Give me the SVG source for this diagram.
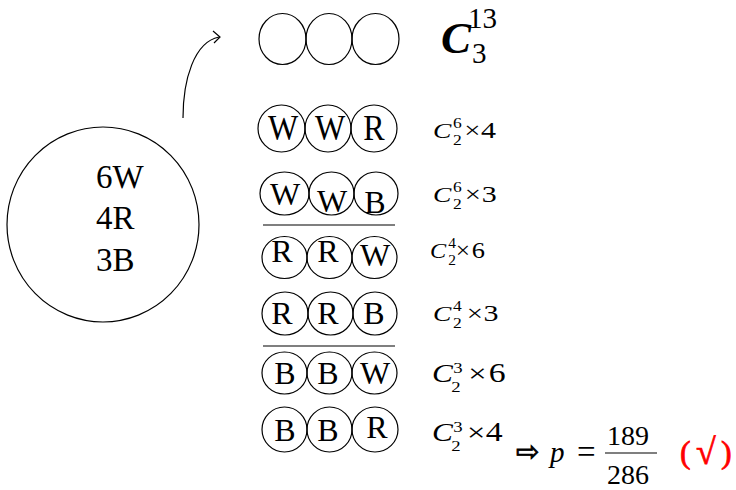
<svg xmlns="http://www.w3.org/2000/svg" width="736" height="490" viewBox="0 0 736 490">
<style>
.c{fill:none;stroke:#000;stroke-width:1.2}
.t{font-family:"Liberation Serif","Times New Roman",serif;fill:#000}
.L{font-size:32px;text-anchor:middle}
.i{font-style:italic}
.sep{stroke:#000;stroke-width:1.2}
.red{fill:#ff0000;stroke:#ff0000;stroke-width:0.7}
</style>
<rect width="736" height="490" fill="#fff"/>

<g id="bag">
<ellipse class="c" cx="103" cy="224.5" rx="96" ry="97.5"/>
<text class="t" x="96" y="188" font-size="33">6W</text>
<text class="t" x="96" y="229" font-size="33">4R</text>
<text class="t" x="96" y="271" font-size="33">3B</text>
</g>

<g id="connectors">
<path class="c" d="M183,118 C183,80 194,42 219,37"/>
<path class="c" d="M213,31 L220,37 L214,43"/>
</g>

<g id="empty-row">
<ellipse class="c" cx="282.5" cy="39" rx="23.5" ry="25.5"/>
<ellipse class="c" cx="329" cy="39" rx="23" ry="25.5"/>
<ellipse class="c" cx="375.5" cy="39" rx="23.5" ry="25.5"/>
</g>

<g id="total">
<text class="t" x="441" y="53" font-size="45" font-weight="bold" font-style="italic">C</text>
<text class="t" x="468" y="28" font-size="29">13</text>
<text class="t" x="472" y="63" font-size="29">3</text>
</g>

<g id="row-WWR">
<ellipse class="c" cx="281.5" cy="128.5" rx="23.5" ry="23.5"/>
<ellipse class="c" cx="328" cy="128.5" rx="23" ry="23.5"/>
<ellipse class="c" cx="374" cy="128.5" rx="23" ry="23.5"/>
<g transform="translate(0,140) scale(1,1.15)">
<text class="t L" x="283" y="0">W</text>
<text class="t L" x="330" y="0">W</text>
<text class="t L" x="374" y="0">R</text>
</g>
</g>

<g id="row-WWB">
<ellipse class="c" cx="284.5" cy="193.5" rx="24.5" ry="21.5"/>
<ellipse class="c" cx="331.5" cy="193.5" rx="22.5" ry="21.5"/>
<ellipse class="c" cx="376" cy="193.5" rx="22" ry="21.5"/>
<text class="t L" x="285" y="205">W</text>
<text class="t L" x="332" y="212">W</text>
<text class="t L" x="375" y="213">B</text>
<line class="sep" x1="263" y1="225" x2="395" y2="225"/>
</g>

<g id="row-RRW">
<ellipse class="c" cx="284.5" cy="257.5" rx="22.5" ry="21"/>
<ellipse class="c" cx="329.5" cy="257.5" rx="22.5" ry="21"/>
<ellipse class="c" cx="374.5" cy="257.5" rx="22.5" ry="21"/>
<text class="t L" x="282" y="262">R</text>
<text class="t L" x="328" y="262">R</text>
<text class="t L" x="375" y="266">W</text>
</g>

<g id="row-RRB">
<ellipse class="c" cx="285" cy="313.5" rx="23" ry="21.5"/>
<ellipse class="c" cx="330.5" cy="313.5" rx="22.5" ry="21.5"/>
<ellipse class="c" cx="375" cy="313.5" rx="22" ry="21.5"/>
<text class="t L" x="282" y="324">R</text>
<text class="t L" x="328" y="324">R</text>
<text class="t L" x="374" y="324">B</text>
<line class="sep" x1="263" y1="346" x2="395" y2="346"/>
</g>

<g id="row-BBW">
<ellipse class="c" cx="284.5" cy="373" rx="22.5" ry="21"/>
<ellipse class="c" cx="329.5" cy="373" rx="22.5" ry="21"/>
<ellipse class="c" cx="374.5" cy="373" rx="22.5" ry="21"/>
<text class="t L" x="285" y="384">B</text>
<text class="t L" x="328" y="384">B</text>
<text class="t L" x="375" y="384">W</text>
</g>

<g id="row-BBR">
<ellipse class="c" cx="284.5" cy="429.5" rx="22.5" ry="22.5"/>
<ellipse class="c" cx="329.5" cy="429.5" rx="22.5" ry="22.5"/>
<ellipse class="c" cx="375" cy="429.5" rx="23" ry="22.5"/>
<text class="t L" x="285" y="441">B</text>
<text class="t L" x="328" y="441">B</text>
<text class="t L" x="377" y="438">R</text>
</g>

<g id="label-1" transform="translate(433,138) scale(1.25,1)">
<text class="t i" x="0" y="0" font-size="22">C</text>
<text class="t" x="16" y="-10" font-size="14">6</text>
<text class="t" x="16" y="7" font-size="14">2</text>
<text class="t" x="25" y="0" font-size="23">×</text>
<text class="t" x="38.5" y="0" font-size="24">4</text>
</g>

<g id="label-2" transform="translate(433,202) scale(1.25,1)">
<text class="t i" x="0" y="0" font-size="22">C</text>
<text class="t" x="16" y="-10" font-size="14">6</text>
<text class="t" x="16" y="7" font-size="14">2</text>
<text class="t" x="25.5" y="0" font-size="23">×</text>
<text class="t" x="39" y="0" font-size="24">3</text>
</g>

<g id="label-3" transform="translate(430,258) scale(1.1,1)">
<text class="t i" x="0" y="0" font-size="22">C</text>
<text class="t" x="16.5" y="-10" font-size="14">4</text>
<text class="t" x="16.5" y="7" font-size="14">2</text>
<text class="t" x="23.5" y="0" font-size="23">×</text>
<text class="t" x="38" y="0" font-size="24">6</text>
</g>

<g id="label-4" transform="translate(433,321) scale(1.25,1)">
<text class="t i" x="0" y="0" font-size="22">C</text>
<text class="t" x="16" y="-10" font-size="14">4</text>
<text class="t" x="16" y="7" font-size="14">2</text>
<text class="t" x="27" y="0" font-size="23">×</text>
<text class="t" x="40.5" y="0" font-size="24">3</text>
</g>

<g id="label-5" transform="translate(432,382) scale(1.25,1)">
<text class="t i" x="0" y="0" font-size="25">C</text>
<text class="t" x="17" y="-9" font-size="15">3</text>
<text class="t" x="15.5" y="10" font-size="15">2</text>
<text class="t" x="29" y="0" font-size="26">×</text>
<text class="t" x="45.5" y="0" font-size="27">6</text>
</g>

<g id="label-6" transform="translate(432,441) scale(1.25,1)">
<text class="t i" x="0" y="0" font-size="25">C</text>
<text class="t" x="17" y="-9" font-size="15">3</text>
<text class="t" x="15.5" y="10" font-size="15">2</text>
<text class="t" x="28" y="0" font-size="26">×</text>
<text class="t" x="43" y="0" font-size="27">4</text>
</g>

<g id="result">
<text x="516" y="461" font-family="'DejaVu Sans',sans-serif" font-size="28" fill="#000" stroke="#000" stroke-width="0.8">⇨</text>
<text class="t i" x="550" y="462" font-size="29">p</text>
<text class="t" x="577" y="463" font-size="33">=</text>
<text class="t" x="607" y="445" font-size="28">189</text>
<line class="sep" x1="605" y1="453" x2="657" y2="453"/>
<text class="t" x="607" y="484" font-size="28">286</text>
<text class="t red" font-size="32"><tspan x="680" y="463">(</tspan><tspan x="696" y="464" font-size="36">√</tspan><tspan x="721" y="463">)</tspan></text>
</g>
</svg>
